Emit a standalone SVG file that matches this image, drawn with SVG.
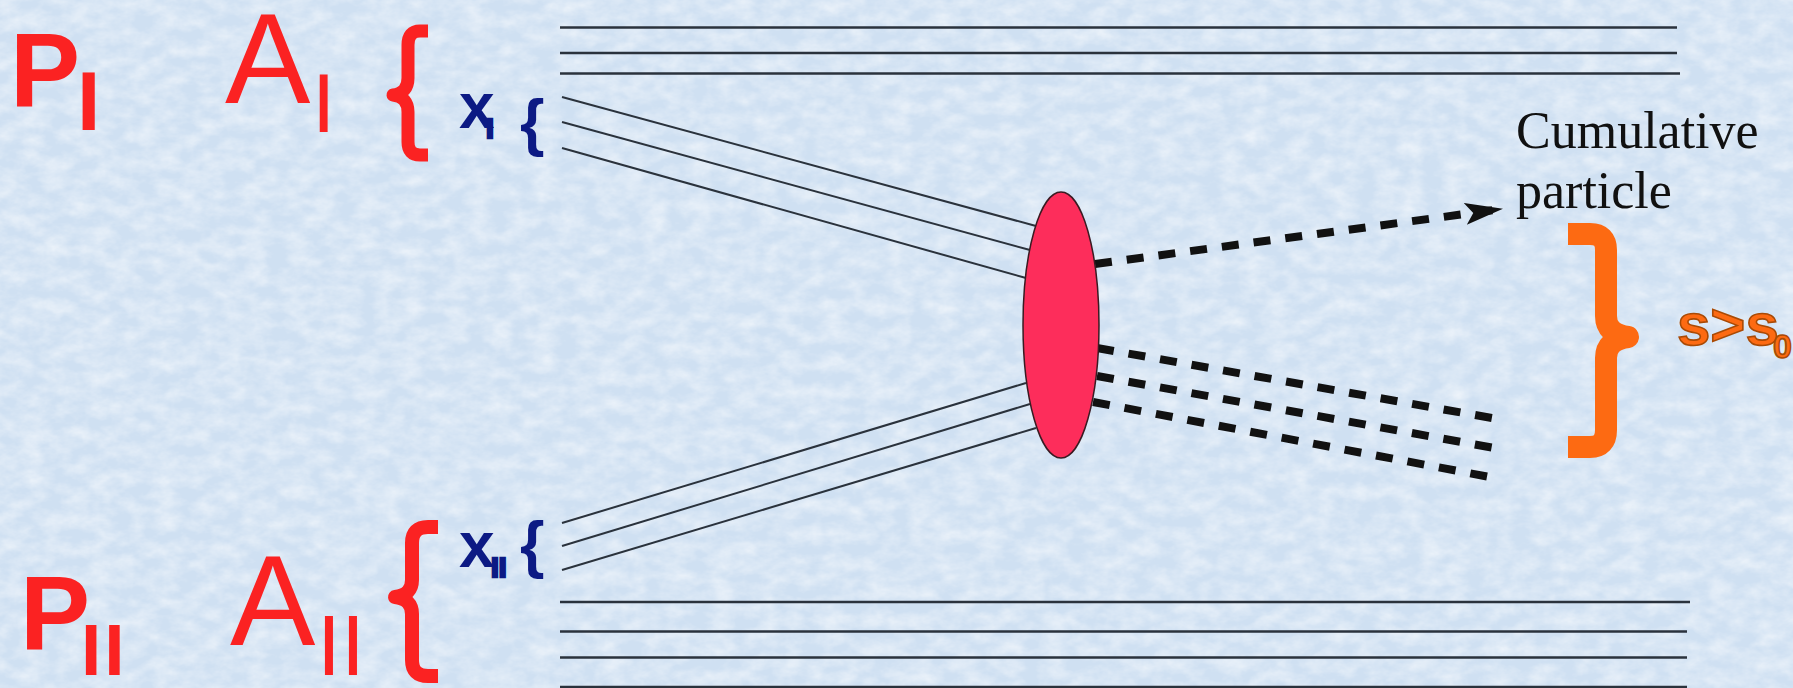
<svg xmlns="http://www.w3.org/2000/svg" width="1793" height="688" viewBox="0 0 1793 688">
  <defs>
    <filter id="tex" x="0" y="0" width="100%" height="100%">
      <feTurbulence type="fractalNoise" baseFrequency="0.045 0.07" numOctaves="4" seed="11" result="n"/>
      <feColorMatrix in="n" type="matrix" values="0 0 0 0 1  0 0 0 0 1  0 0 0 0 1  0.9 0 0 0 -0.28"/>
    </filter>
    <marker id="arrow" markerUnits="userSpaceOnUse" markerWidth="38" markerHeight="24" viewBox="0 0 38 24" refX="37" refY="12" orient="auto">
      <path d="M0,1 L38,12 L0,23 L8,12 z" fill="#111"/>
    </marker>
    <style>
      .red { fill: #fb2222; font-family: "Liberation Sans", Arial, sans-serif; }
      .bold { font-weight: bold; }
      .blue { fill: #0c1a84; font-family: "Liberation Sans", Arial, sans-serif; font-weight: bold; }
      .blueThick { fill: #0c1a84; stroke: #0c1a84; stroke-width: 2.5; font-family: "Liberation Sans", Arial, sans-serif; font-weight: bold; }
      .hline { stroke: #2a323c; stroke-width: 2.6; fill: none; }
      .dline { stroke: #2a323c; stroke-width: 2; fill: none; }
      .dash { stroke: #111; stroke-width: 8; stroke-dasharray: 17 15; fill: none; }
      .brace { fill: none; stroke-linejoin: round; stroke-linecap: butt; }
      .serif { font-family: "Liberation Serif", "Times New Roman", serif; fill: #111; font-size: 52px; }
      .orangeTxt { fill: #fd6a12; stroke: #a94a05; stroke-width: 1.6; font-family: "Liberation Sans", Arial, sans-serif; font-weight: bold; }
    </style>
  </defs>

  <g id="background">
    <rect x="0" y="0" width="1793" height="688" fill="#cfe0f2"/>
    <rect x="0" y="0" width="1793" height="688" filter="url(#tex)"/>
  </g>

  <g id="connectors">
    <!-- nucleus A_I lines -->
    <line class="hline" x1="560" y1="27.5" x2="1677" y2="27.5"/>
    <line class="hline" x1="560" y1="53" x2="1677" y2="53"/>
    <line class="hline" x1="560" y1="73.5" x2="1680" y2="73.5"/>
    <!-- nucleus A_II lines -->
    <line class="hline" x1="560" y1="602" x2="1690" y2="602"/>
    <line class="hline" x1="560" y1="631.5" x2="1687" y2="631.5"/>
    <line class="hline" x1="560" y1="657.5" x2="1687" y2="657.5"/>
    <line class="hline" x1="560" y1="687" x2="1687" y2="687"/>
    <!-- x_I converging lines -->
    <line class="dline" x1="562" y1="97" x2="1036" y2="226"/>
    <line class="dline" x1="562" y1="122" x2="1030" y2="250"/>
    <line class="dline" x1="562" y1="148" x2="1026" y2="278"/>
    <!-- x_II converging lines -->
    <line class="dline" x1="562" y1="523" x2="1026" y2="383"/>
    <line class="dline" x1="562" y1="546" x2="1030" y2="404"/>
    <line class="dline" x1="562" y1="570" x2="1036" y2="428"/>
    <!-- outgoing dashed lines -->
    <line class="dash" x1="1095" y1="264" x2="1502" y2="209" marker-end="url(#arrow)"/>
    <line class="dash" x1="1097" y1="348" x2="1503" y2="420"/>
    <line class="dash" x1="1097" y1="376" x2="1500" y2="449"/>
    <line class="dash" x1="1093" y1="402" x2="1495" y2="478"/>
  </g>

  <g id="label-P1">
    <text class="red bold" x="10" y="107" font-size="105">P</text>
    <text class="red bold" x="77" y="130" font-size="84">I</text>
  </g>

  <g id="label-A1">
    <text class="red" x="225" y="103" font-size="128">A</text>
    <text class="red" x="312" y="132" font-size="84">I</text>
    <path class="brace" stroke="#fb2222" stroke-width="13" d="M428 31 L420 31 Q408 31 408 45 L408 78 Q408 93 393 95 Q408 97 408 112 L408 142 Q408 155 420 155 L428 155"/>
  </g>

  <g id="label-x1">
    <text class="blue" x="459" y="128" font-size="64">x</text>
    <text class="blueThick" x="486" y="138" font-size="28">I</text>
    <text class="blue" x="520" y="144" font-size="63">{</text>
  </g>

  <g id="label-P2">
    <text class="red bold" x="20" y="650" font-size="105">P</text>
    <text class="red bold" x="81" y="675" font-size="73" letter-spacing="3">II</text>
  </g>

  <g id="label-A2">
    <text class="red" x="230" y="645" font-size="128">A</text>
    <text class="red" x="317" y="675" font-size="86">II</text>
    <path class="brace" stroke="#fb2222" stroke-width="14" d="M438 527 L428 527 Q412 527 412 543 L412 580 Q412 595 395 597 Q412 599 412 614 L412 660 Q412 676 428 676 L438 676"/>
  </g>

  <g id="label-x2">
    <text class="blue" x="459" y="567" font-size="64">x</text>
    <text class="blueThick" x="491" y="577" font-size="28">II</text>
    <text class="blue" x="520" y="566" font-size="63">{</text>
  </g>

  <g id="collision">
    <ellipse cx="1061" cy="325" rx="38" ry="133" fill="#fd2d5b" stroke="#3a1a22" stroke-width="1.5"/>
  </g>

  <g id="label-cumulative">
    <text class="serif" x="1516" y="148">Cumulative</text>
    <text class="serif" x="1516" y="208">particle</text>
  </g>

  <g id="label-s">
    <path class="brace" stroke="#fd6a12" stroke-width="22" d="M1568 234 L1590 234 Q1606 234 1606 250 L1606 316 Q1606 334 1628 337 Q1606 340 1606 358 L1606 430 Q1606 447 1590 447 L1568 447"/>
    <text class="orangeTxt" x="1677" y="345" font-size="60">s&gt;s</text>
    <text class="orangeTxt" x="1773" y="358" font-size="34">0</text>
  </g>
</svg>
